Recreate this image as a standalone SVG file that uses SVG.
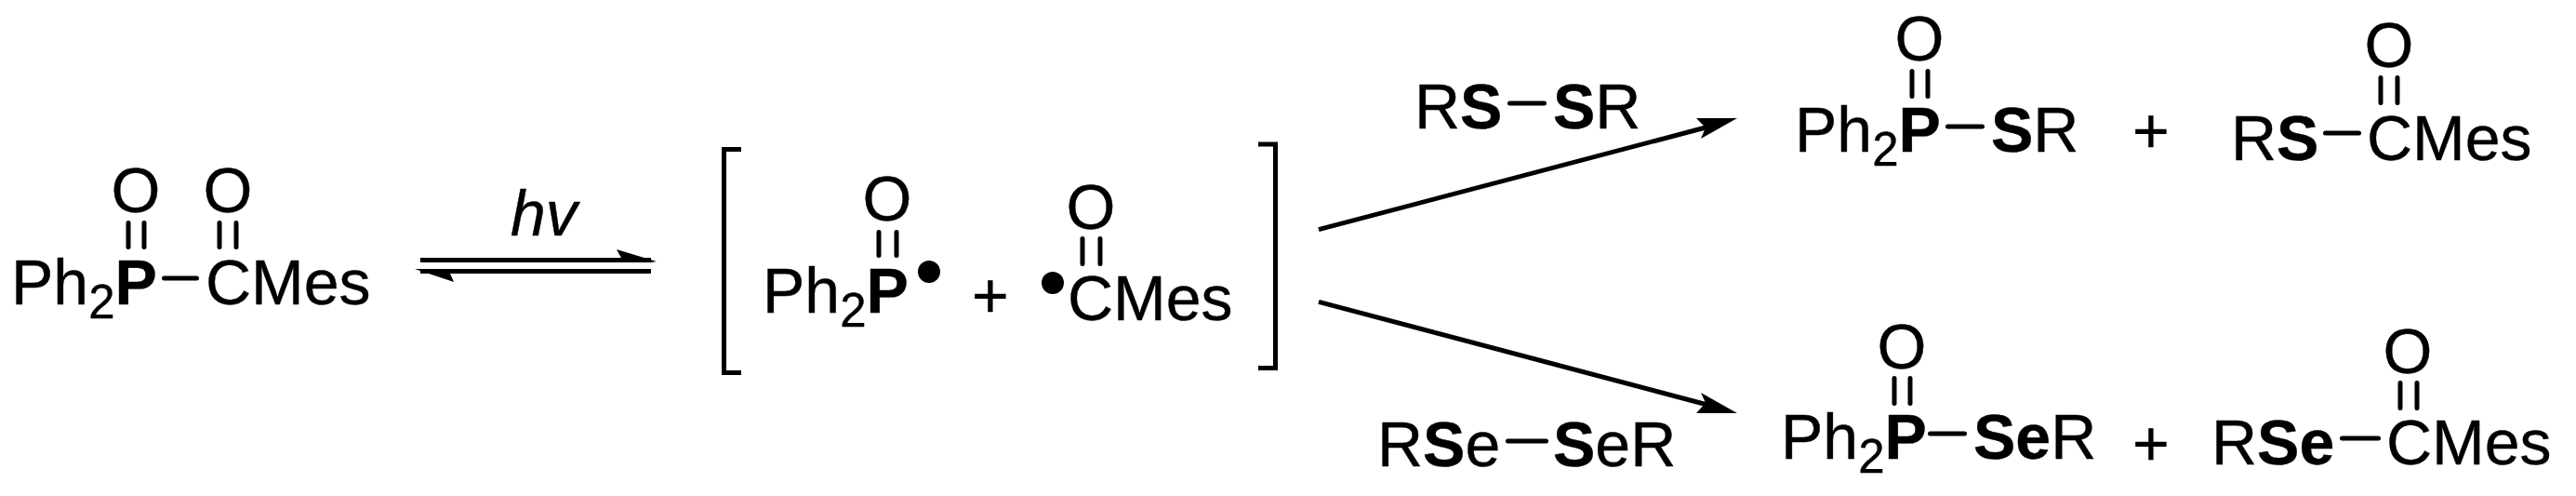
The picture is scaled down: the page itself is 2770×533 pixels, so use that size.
<svg xmlns="http://www.w3.org/2000/svg" width="2770" height="533" viewBox="0 0 2770 533">
<style>
text{font-family:"Liberation Sans",Arial,sans-serif;font-size:68px;fill:#000;stroke:#000;stroke-width:.4}
.b{font-weight:700}
.sub{font-size:51px}
.o{text-anchor:middle}
.i{font-style:italic}
.bond{stroke:#000;stroke-width:5;stroke-linecap:round;fill:none}
.line{stroke:#000;stroke-width:5;fill:none}
.head{fill:#000}
</style>
<rect width="2770" height="533" fill="#fff"/>
<g id="connectors">
<polyline class="line" points="452,279.5 700,279.5"/>
<path class="head" d="M706,281 L663,268 L668,277 L668,282 L700,282Z"/>
<polyline class="line" points="452,291.500 700,291.500"/>
<path class="head" d="M446,289 L488,303 L484,294 L484,289Z"/>
<line class="line" x1="1418" x2="1836" y1="246.700" y2="136.500"/>
<path class="head" d="M1868,127 L1824,127 L1834,137 L1829,149Z"/>
<line class="line" x1="1418" x2="1836" y1="324.300" y2="435"/>
<path class="head" d="M1868,444 L1824,444 L1834,433 L1829,422Z"/>
</g>
<g id="reactant">
<text x="12" y="327">Ph<tspan class="sub" dy="15">2</tspan><tspan class="b" dy="-15">P</tspan></text>
<text x="221" y="327">CMes</text>
<text class="o" x="146" y="228">O</text>
<text class="o" x="245" y="228">O</text>
<path class="bond" d="M138,239.500V265.500M155,239.500V265.500M236,239.500V265.500M254,239.500V265.500M176.500,299H211.500"/>
</g>
<text id="hv" class="i" x="549" y="253">hv</text>
<g id="intermediate">
<path class="line" d="M797,160.500H778.500V400.500H797M1353,155H1371.500V395.500H1353"/>
<text x="820" y="336">Ph<tspan class="sub" dy="15">2</tspan><tspan class="b" dy="-15">P</tspan></text>
<text class="o" x="954" y="237">O</text>
<path class="bond" d="M945,249.500V274.500M964,249.500V274.500M1164,256.500V283.500M1183,256.500V283.500"/>
<circle cx="999" cy="292" r="12"/>
<text x="1045" y="341">+</text>
<circle cx="1132" cy="304" r="12"/>
<text x="1148" y="344">CMes</text>
<text class="o" x="1173" y="245.500">O</text>
</g>
<g id="reagent-s">
<text x="1521" y="138">R<tspan class="b">S</tspan></text>
<path class="bond" d="M1623.500,111H1660.500"/>
<text x="1670" y="138"><tspan class="b">S</tspan>R</text>
</g>
<g id="product-p-s">
<text x="1930" y="163">Ph<tspan class="sub" dy="15">2</tspan><tspan class="b" dy="-15">P</tspan></text>
<text class="o" x="2064" y="65">O</text>
<path class="bond" d="M2056,76.500V103.500M2073,76.500V103.500M2094.500,136H2131.500"/>
<text x="2141" y="163"><tspan class="b">S</tspan>R</text>
</g>
<text id="plus-top" x="2293" y="164">+</text>
<g id="product-c-s">
<text x="2399" y="172">R<tspan class="b">S</tspan></text>
<path class="bond" d="M2500.500,143H2536.500M2560,83.500V110.500M2578,83.500V110.500"/>
<text x="2545" y="172">CMes</text>
<text class="o" x="2569" y="72">O</text>
</g>
<g id="reagent-se">
<text x="1481" y="501">R<tspan class="b">S</tspan>e</text>
<path class="bond" d="M1621.500,474H1662.500"/>
<text x="1670" y="501"><tspan class="b">S</tspan>eR</text>
</g>
<g id="product-p-se">
<text x="1915" y="493">Ph<tspan class="sub" dy="15">2</tspan><tspan class="b" dy="-15">P</tspan></text>
<text class="o" x="2045" y="396">O</text>
<path class="bond" d="M2037,406.500V433.500M2054,406.500V433.500M2075.500,466H2112.500"/>
<text class="b" x="2122" y="493">Se<tspan style="font-weight:400">R</tspan></text>
</g>
<text id="plus-bottom" x="2293" y="500">+</text>
<g id="product-c-se">
<text x="2378" y="499">R<tspan class="b">Se</tspan></text>
<path class="bond" d="M2518.500,471H2557.500M2581,411.500V438.500M2599,411.500V438.500"/>
<text x="2566" y="499">CMes</text>
<text class="o" x="2589" y="401">O</text>
</g>
</svg>
